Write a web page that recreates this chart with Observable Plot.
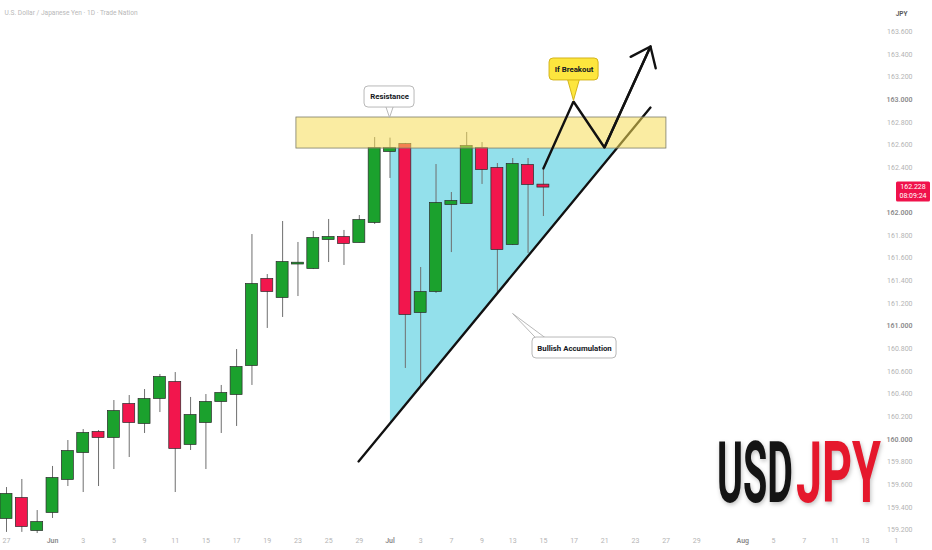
<!DOCTYPE html>
<html><head><meta charset="utf-8">
<script src="https://cdn.jsdelivr.net/npm/d3@7"></script>
<script src="https://cdn.jsdelivr.net/npm/@observablehq/plot@0.6"></script>
<style>
body{margin:0;background:#fff;font-family:Roboto,"Noto Sans",sans-serif;}
svg{display:block}
</style>
</head><body><div id="chart"></div>
<script>
// ---- candle data (daily USDJPY) ----
const openP  = [159.303,159.479,159.197,159.356,159.647,159.885,160.062,160.018,160.309,160.141,160.362,160.503,159.956,160.150,160.335,160.397,160.653,161.412,161.253,161.549,161.509,161.765,161.783,161.739,161.915,162.542,162.604,161.121,161.306,162.074,162.083,162.568,162.392,161.721,162.418,162.245];
const highP  = [159.576,159.647,159.373,159.762,159.991,160.088,160.079,160.344,160.388,160.441,160.574,160.591,160.371,160.397,160.477,160.794,161.809,161.456,161.924,161.739,161.836,161.942,161.845,161.977,162.665,162.660,162.613,161.518,162.427,162.180,162.710,162.621,162.436,162.480,162.480,162.401];
const lowP   = [159.180,159.180,159.170,159.303,159.585,159.532,159.585,159.735,159.841,160.053,160.238,159.532,159.903,159.735,160.053,160.115,160.477,160.980,161.077,161.262,161.500,161.562,161.536,161.735,161.898,162.304,160.627,160.477,161.289,161.650,162.080,162.251,161.297,161.712,161.642,161.968];
const closeP = [159.515,159.232,159.267,159.656,159.894,160.053,160.018,160.247,160.150,160.353,160.547,159.921,160.212,160.327,160.406,160.635,161.368,161.306,161.562,161.556,161.774,161.783,161.730,161.933,162.568,162.568,161.103,161.297,162.083,162.101,162.586,162.383,161.677,162.427,162.251,162.228];

// ---- axes ----
const priceTicks = [159.2,159.4,159.6,159.8,160.0,160.2,160.4,160.6,160.8,161.0,161.2,161.4,161.6,161.8,162.0,162.2,162.4,162.6,162.8,163.0,163.2,163.4,163.6];
const dateTickIndex = [0,3,5,7,9,11,13,15,17,19,21,23,25,27,29,31,33,35,37,39,41,43,45,48,50,52,54,56,58];
const dateTickLabel = ["27","Jun","3","5","9","11","15","17","19","23","25","29","Jul","3","7","9","13","15","17","21","23","27","29","Aug","5","7","11","13","1"];
const monthLabels = ["Jun","Jul","Aug"];
const lastPrice = 162.228;
const countdown = "08:09:24";

// ---- annotations (bar index / price) ----
const zone = [{x1: 18.9, x2: 43.02, y1: 162.568, y2: 162.842}];
const trendLine = [{i: 22.95, p: 159.806}, {i: 41.98, p: 162.930}];
const triangle = [{i: 25.03, lo: 160.147, hi: 162.568}, {i: 39.81, lo: 162.568, hi: 162.568}];
const projection = [{i: 35.0, p: 162.392}, {i: 36.96, p: 162.983}, {i: 38.98, p: 162.577}, {i: 41.98, p: 163.469}];
const callouts = [
  {label: "Resistance", x1: 23.34, x2: 26.6, y1: 162.930, y2: 163.116, fill: "#ffffff", stroke: "#b0b0b0"},
  {label: "If Breakout", x1: 35.4, x2: 38.6, y1: 163.169, y2: 163.363, fill: "#fde63e", stroke: "#cfae10"},
  {label: "Bullish Accumulation", x1: 34.29, x2: 39.77, y1: 160.715, y2: 160.900, fill: "#ffffff", stroke: "#b0b0b0"}
];
const tails = [
  {id: 0, pts: [[24.71, 162.945], [24.97, 162.842], [25.23, 162.945]]},
  {id: 1, pts: [[36.57, 163.18], [36.96, 162.992], [37.35, 163.18]]},
  {id: 2, pts: [[34.55, 160.89], [32.99, 161.112], [35.2, 160.89]]}
];

const candles = openP.map((o, i) => ({i, open: o, high: highP[i], low: lowP[i], close: closeP[i]}));
const dateTicks = dateTickIndex.map((i, k) => ({i, label: dateTickLabel[k]}));
const tailPts = tails.flatMap(t => t.pts.map(([i, p]) => ({id: t.id, i, p, fill: callouts[t.id].fill, stroke: callouts[t.id].stroke})));
const visibleTicks = priceTicks.filter(v => Math.abs(v - lastPrice) > 0.08);
const isMajor = v => Math.abs(v - Math.round(v)) < 1e-6;

const GREEN = "#1ba12d", RED = "#f2164d";
const W = 932, H = 550, PX0 = 6, STEP = 15.34, RIGHT = 870;

const chart = Plot.plot({
  width: W, height: H,
  marginLeft: 0, marginRight: W - RIGHT, marginTop: 0, marginBottom: 16,
  style: {fontFamily: "Roboto, 'Noto Sans', sans-serif", background: "#fff", overflow: "visible"},
  x: {type: "linear", domain: [-PX0 / STEP, (RIGHT - PX0) / STEP], axis: null},
  y: {type: "linear", domain: [159.1615, 163.8747], axis: null},
  marks: [
    Plot.areaY(triangle, {x: "i", y1: "lo", y2: "hi", fill: "#93e0eb", curve: "linear"}),
    Plot.ruleX(candles, {x: "i", y1: "low", y2: "high", stroke: "#6f6f6f", strokeWidth: 1}),
    Plot.rect(candles, {
      x1: d => d.i - 0.39, x2: d => d.i + 0.39, y1: "open", y2: "close",
      insetTop: -0.5, insetBottom: -0.5,
      fill: d => d.close >= d.open ? GREEN : RED, stroke: "#2a2a2a", strokeWidth: 0.7
    }),
    Plot.line(trendLine, {x: "i", y: "p", stroke: "#111", strokeWidth: 2.3}),
    Plot.rect(zone, {x1: "x1", x2: "x2", y1: "y1", y2: "y2", fill: "#f6dc55", fillOpacity: 0.55, stroke: "#7d7d6a", strokeWidth: 0.8}),
    Plot.line(projection, {x: "i", y: "p", stroke: "#111", strokeWidth: 2.4, strokeLinejoin: "miter"}),
    Plot.arrow([projection.slice(-2)], {
      x1: d => d[0].i, y1: d => d[0].p, x2: d => d[1].i, y2: d => d[1].p,
      stroke: "#111", strokeWidth: 2.4, headLength: 14, headAngle: 76
    }),
    Plot.line(tailPts, {x: "i", y: "p", z: "id", fill: "fill", stroke: "stroke", strokeWidth: 0.9}),
    Plot.rect(callouts, {x1: "x1", x2: "x2", y1: "y1", y2: "y2", fill: "fill", stroke: "stroke", strokeWidth: 0.9, rx: 4}),
    Plot.text(callouts, {x: d => (d.x1 + d.x2) / 2, y: d => (d.y1 + d.y2) / 2, text: "label", fontSize: 7.8, fontWeight: 700, fill: "#131722"}),
    Plot.text(visibleTicks.filter(v => !isMajor(v)), {y: d => d, text: d => d.toFixed(3), frameAnchor: "right", dx: 42, fontSize: 7, fill: "#b4b4b4"}),
    Plot.text(visibleTicks.filter(isMajor), {y: d => d, text: d => d.toFixed(3), frameAnchor: "right", dx: 42, fontSize: 7, fontWeight: 600, fill: "#8a8a8a"}),
    Plot.text(dateTicks.filter(d => !monthLabels.includes(d.label)), {x: "i", text: "label", frameAnchor: "bottom", dy: 8, fontSize: 7, fill: "#b4b4b4"}),
    Plot.text(dateTicks.filter(d => monthLabels.includes(d.label)), {x: "i", text: "label", frameAnchor: "bottom", dy: 8, fontSize: 7, fontWeight: 600, fill: "#8a8a8a"}),
    Plot.text(["U.S. Dollar / Japanese Yen · 1D · Trade Nation"], {frameAnchor: "top-left", dx: 4, dy: 10, textAnchor: "start", fontSize: 6.6, fill: "#b8b8b8"}),
    Plot.text(["JPY"], {frameAnchor: "top-right", dx: 37, dy: 11, fontSize: 6.5, fontWeight: 600, fill: "#555"})
  ]
});

document.getElementById("chart").appendChild(chart);

const svg = d3.select(chart);
const ys = chart.scale("y");
const yLast = ys.apply(lastPrice);
const lab = svg.append("g").attr("text-anchor", "middle");
lab.append("rect").attr("x", 896).attr("y", yLast - 5).attr("width", 34).attr("height", 20).attr("rx", 1.5).attr("fill", "#f0124b");
lab.append("text").attr("x", 913).attr("y", yLast + 2.5).attr("font-size", 7).attr("fill", "#fff").text(lastPrice.toFixed(3));
lab.append("text").attr("x", 913).attr("y", yLast + 11.5).attr("font-size", 7).attr("fill", "#fff").text(countdown);

// USDJPY logo: condensed by a horizontal scale so its box matches what is drawn
const logoFont = "'Liberation Sans Narrow', Roboto, 'Liberation Sans', sans-serif";
const logo = svg.append("g").attr("text-anchor", "start").style("filter", "drop-shadow(1px 2px 2px rgba(0,0,0,0.25))");
function logoWord(word, x, targetWidth, color) {
  const t = logo.append("text").attr("x", 0).attr("y", 0)
    .attr("font-family", logoFont).attr("font-weight", 700).attr("font-size", 86).attr("fill", color).text(word);
  const natural = t.node().getComputedTextLength() || targetWidth;
  t.attr("transform", `translate(${x},502) scale(${targetWidth / natural},1)`);
}
logoWord("USD", 717, 76, "#141414");
logoWord("JPY", 796, 85, "#e5182c");
</script>
</body></html>
